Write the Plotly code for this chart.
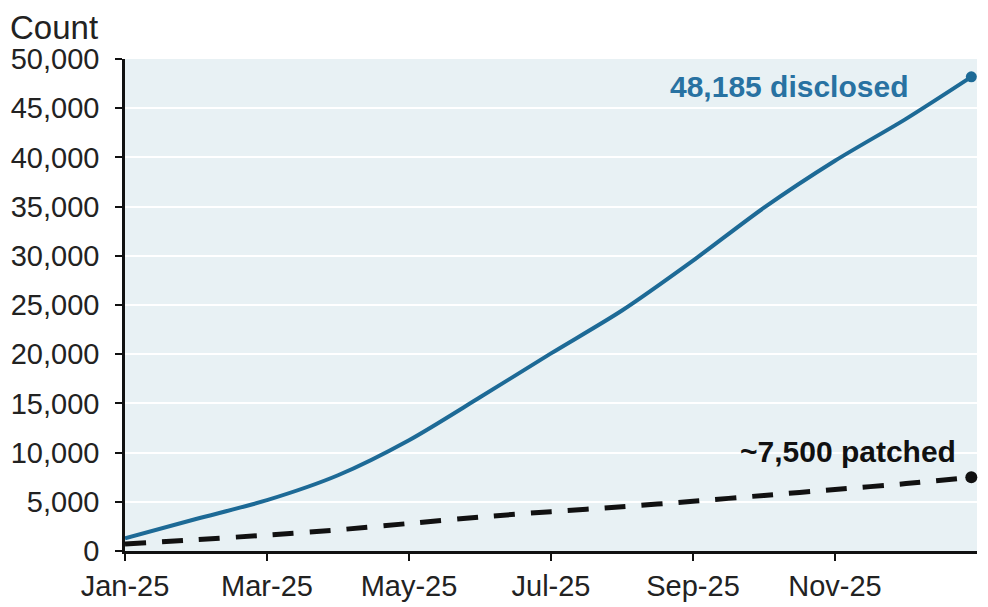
import plotly.graph_objects as go

months = ["Jan-25", "Feb-25", "Mar-25", "Apr-25", "May-25", "Jun-25", "Jul-25",
          "Aug-25", "Sep-25", "Oct-25", "Nov-25", "Dec-25", "Dec-25 end"]
month_pos = [0, 1, 2, 3, 4, 5, 6, 7, 8, 9, 10, 11, 11.92]
disclosed = [1300, 3250, 5170, 7700, 11260, 15620, 20080, 24440, 29510, 34890, 39660, 43920, 48185]
patched = [700, 1150, 1620, 2150, 2800, 3450, 4000, 4500, 5050, 5650, 6250, 6850, 7500]
tick_pos = [0, 2, 4, 6, 8, 10]
tick_text = ["Jan-25", "Mar-25", "May-25", "Jul-25", "Sep-25", "Nov-25"]
y_ticks = [0, 5000, 10000, 15000, 20000, 25000, 30000, 35000, 40000, 45000, 50000]

BLUE = "#1d6a96"
FONT = "Liberation Sans, Arial, sans-serif"

fig = go.Figure()
fig.add_trace(go.Scatter(
    x=month_pos, y=disclosed, mode="lines",
    line=dict(color=BLUE, width=4, shape="spline", smoothing=0.8),
    hoverinfo="skip", showlegend=False))
fig.add_trace(go.Scatter(
    x=[month_pos[-1]], y=[disclosed[-1]], mode="markers",
    marker=dict(color=BLUE, size=11), showlegend=False, cliponaxis=False))
fig.add_trace(go.Scatter(
    x=month_pos, y=patched, mode="lines",
    line=dict(color="#111111", width=5, dash="21px,16px", shape="spline", smoothing=0.8),
    showlegend=False))
fig.add_trace(go.Scatter(
    x=[month_pos[-1]], y=[patched[-1]], mode="markers",
    marker=dict(color="#111111", size=12), showlegend=False, cliponaxis=False))

fig.add_annotation(x=month_pos[-1], y=disclosed[-1], xref="x", yref="y",
                   text="<b>48,185 disclosed</b>", showarrow=False,
                   xanchor="right", yanchor="middle", xshift=-61, yshift=-10,
                   font=dict(family=FONT, size=30, color="#2872a2"))
fig.add_annotation(x=month_pos[-1], y=patched[-1], xref="x", yref="y",
                   text="<b>~7,500 patched</b>", showarrow=False,
                   xanchor="right", yanchor="middle", xshift=-13, yshift=26,
                   font=dict(family=FONT, size=30, color="#111111"))
fig.add_annotation(x=-0.136, y=1.1037, xref="paper", yref="paper",
                   text="Count", showarrow=False, xanchor="left", yanchor="top",
                   borderpad=0, font=dict(family=FONT, size=33, color="#222222"))

# page body adds an 8px offset; figure is sized so the plot lands where the reference has it
fig.update_layout(
    width=980, height=599,
    margin=dict(l=117, r=11, t=51, b=56, autoexpand=False),
    paper_bgcolor="white", plot_bgcolor="#e8f1f4",
    font=dict(family=FONT, size=29, color="#222222"),
)
fig.update_xaxes(range=[0, 12], tickvals=tick_pos, ticktext=tick_text, automargin=False,
                 showgrid=False, zeroline=False, showline=True, linecolor="#111111",
                 linewidth=2.5, ticks="outside", ticklen=7, tickwidth=2, tickcolor="#111111",
                 tickfont=dict(size=29, color="#222222"), ticklabelstandoff=0)
fig.update_yaxes(range=[0, 50000], tickvals=y_ticks, tickformat=",d", automargin=False,
                 showgrid=True, gridcolor="white", gridwidth=2, zeroline=False,
                 showline=True, linecolor="#111111", linewidth=2.5,
                 ticks="outside", ticklen=7, tickwidth=2, tickcolor="#111111",
                 tickfont=dict(size=29, color="#222222"), ticklabelstandoff=10)

fig.write_html("out.html")
